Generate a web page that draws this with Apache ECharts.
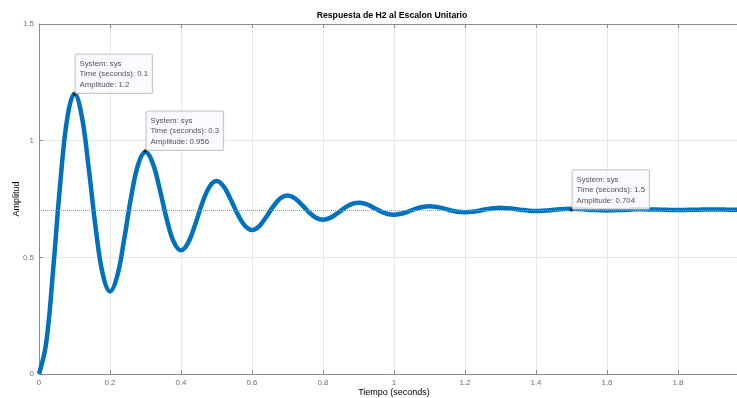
<!DOCTYPE html>
<html>
<head>
<meta charset="utf-8">
<script src="https://cdn.jsdelivr.net/npm/echarts@6/dist/echarts.min.js"></script>
<style>html,body{margin:0;padding:0;background:#fff;}#c{width:737px;height:398px;}</style>
</head>
<body>
<div id="c"></div>
<script>
// time samples (s), step 0.02
const time = [];
for (let k = 0; k < 101; k++) time.push(+(k * 0.02).toFixed(2));
// amplitude
const amplitude = [
  0.000, 0.130, 0.450, 0.820, 1.100, 1.201, 1.109, 0.883, 0.622, 0.425,
  0.354, 0.418, 0.578, 0.762, 0.901, 0.951, 0.905, 0.793, 0.663, 0.565,
  0.530, 0.562, 0.641, 0.733, 0.802, 0.827, 0.804, 0.748, 0.684, 0.635,
  0.617, 0.633, 0.673, 0.718, 0.753, 0.765, 0.754, 0.726, 0.694, 0.670,
  0.661, 0.669, 0.688, 0.711, 0.728, 0.734, 0.729, 0.715, 0.699, 0.687,
  0.683, 0.687, 0.696, 0.708, 0.716, 0.719, 0.716, 0.710, 0.701, 0.695,
  0.693, 0.695, 0.700, 0.706, 0.710, 0.712, 0.710, 0.707, 0.703, 0.700,
  0.699, 0.700, 0.702, 0.705, 0.707, 0.708, 0.707, 0.705, 0.703, 0.702,
  0.701, 0.702, 0.703, 0.704, 0.706, 0.706, 0.705, 0.705, 0.704, 0.703,
  0.703, 0.703, 0.704, 0.704, 0.705, 0.705, 0.705, 0.704, 0.704, 0.703,
  0.703
];
const steadyState = 0.704;
const tipTimes = [0.1, 0.3, 1.5];
const tipAmps = [1.2, 0.956, 0.704];
const xTicks = [0, 0.2, 0.4, 0.6, 0.8, 1, 1.2, 1.4, 1.6, 1.8];
const yTicks = [0, 0.5, 1, 1.5];

const lineData = time.map((t, i) => [t, amplitude[i]]);
const tipData = tipTimes.map((t, i) => [t, tipAmps[i]]);

const font = 'Liberation Sans, Arial, Helvetica, sans-serif';
const chart = echarts.init(document.getElementById('c'), null, {renderer: 'canvas'});
chart.setOption({
  animation: false,
  backgroundColor: '#ffffff',
  title: {
    text: 'Respuesta de H2 al Escalon Unitario',
    left: 392, top: 11, textAlign: 'center', padding: 0,
    textStyle: {fontFamily: font, fontSize: 8.7, fontWeight: 'bold', color: '#000'}
  },
  grid: {left: 39, top: 24, bottom: 24, right: -12, containLabel: false, outerBoundsMode: 'none'},
  xAxis: [{
    type: 'value', min: 0, max: 2, interval: 0.2,
    name: 'Tiempo (seconds)', nameLocation: 'middle', nameGap: 14, nameMoveOverlap: false,
    nameTextStyle: {fontFamily: font, fontSize: 9, color: '#000'},
    axisLine: {onZero: false, lineStyle: {color: '#8c8c8c', width: 1}},
    axisTick: {inside: true, length: 4, lineStyle: {color: '#8c8c8c'}},
    axisLabel: {fontFamily: font, fontSize: 8, color: '#707070', margin: 5,
      showMaxLabel: false,
      formatter: v => xTicks.some(t => Math.abs(t - v) < 1e-9) ? String(+v.toFixed(1)) : ''},
    splitLine: {show: true, lineStyle: {color: '#e6e6e6', width: 1}}
  }, {
    type: 'value', min: 0, max: 2, interval: 0.2, position: 'top',
    axisLine: {onZero: false, lineStyle: {color: '#8c8c8c', width: 1}},
    axisTick: {inside: true, length: 4, lineStyle: {color: '#8c8c8c'}},
    axisLabel: {show: false}, splitLine: {show: false}
  }],
  yAxis: [{
    type: 'value', min: 0, max: 1.5, interval: 0.5,
    name: 'Amplitud', nameLocation: 'middle', nameGap: 18, nameRotate: 90, nameMoveOverlap: false,
    nameTextStyle: {fontFamily: font, fontSize: 9, color: '#000'},
    axisLine: {show: true, onZero: false, lineStyle: {color: '#8c8c8c', width: 1}},
    axisTick: {show: true, inside: true, length: 4, lineStyle: {color: '#8c8c8c'}},
    axisLabel: {fontFamily: font, fontSize: 8, color: '#707070', margin: 5,
      formatter: v => String(+v.toFixed(1))},
    splitLine: {show: true, lineStyle: {color: '#e6e6e6', width: 1}}
  }],
  series: [{
    type: 'line', data: lineData, showSymbol: false, smooth: 0.4,
    lineStyle: {color: '#0072BD', width: 4.5},
    itemStyle: {color: '#0072BD'},
    z: 3,
    markLine: {
      silent: true, symbol: 'none', label: {show: false},
      lineStyle: {color: '#9a9a9a', type: 'dotted', width: 1},
      data: [{yAxis: steadyState}]
    }
  }, {
    type: 'scatter', data: tipData, symbol: 'circle', symbolSize: 4,
    itemStyle: {color: '#1a1a1a'}, z: 5,
    label: {
      show: true, position: [3, 1], align: 'left', verticalAlign: 'bottom',
      formatter: p => 'System: sys\nTime (seconds): ' + p.value[0] + '\nAmplitude: ' + p.value[1],
      fontFamily: font, fontSize: 7.8, lineHeight: 10.5, color: '#262626',
      backgroundColor: '#fafaff', borderColor: '#b8b8b8', borderWidth: 1,
      padding: [4, 4, 3, 4], borderRadius: 1
    }
  }]
});
</script>
</body>
</html>
